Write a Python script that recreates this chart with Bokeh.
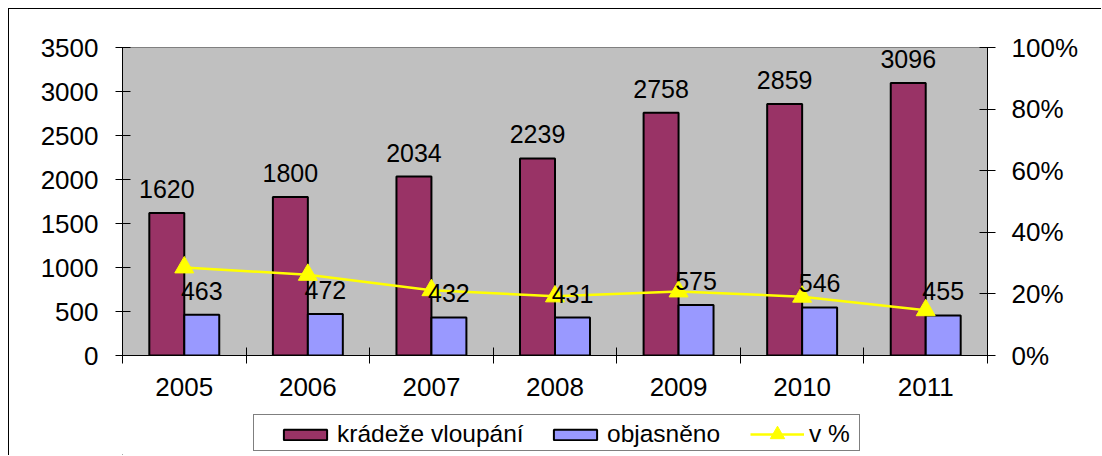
from bokeh.plotting import figure
from bokeh.layouts import column
from bokeh.models import (Range1d, LinearAxis, FixedTicker, NumeralTickFormatter,
                          Legend, LegendItem)
from bokeh.embed import file_html
from bokeh.resources import INLINE
from bokeh.core.properties import value

# ---- data ----
years = ["2005", "2006", "2007", "2008", "2009", "2010", "2011"]
kradeze = [1620, 1800, 2034, 2239, 2758, 2859, 3096]
objasneno = [463, 472, 432, 431, 575, 546, 455]
procenta = [0.286, 0.262, 0.212, 0.192, 0.208, 0.191, 0.147]
y_ticks = [0, 500, 1000, 1500, 2000, 2500, 3000, 3500]
pct_ticks = [0, 0.2, 0.4, 0.6, 0.8, 1.0]
legend_labels = ["krádeže vloupání", "objasněno", "v %"]

FONT = "Liberation Sans"
FS = "25px"
AFS = "26px"
LFS = "24.5px"
MAROON = "#993366"
BLUE = "#9999FF"
YELLOW = "#FFFF00"

pos = [i + 0.5 for i in range(len(years))]
bw = 0.283
x_k = [c - bw / 2 for c in pos]
x_o = [c + bw / 2 for c in pos]

p = figure(width=1093, height=401, output_backend="svg", toolbar_location=None,
           x_range=Range1d(0, len(years)), y_range=Range1d(0, 3500),
           min_border_left=113, min_border_right=115, min_border_top=38,
           min_border_bottom=55)
p.styles = {"margin-left": "8px", "margin-top": "8px",
            "border-left": "1px solid black", "border-top": "1px solid black"}
p.extra_y_ranges = {"pct": Range1d(0, 1)}
p.background_fill_color = "#C0C0C0"
p.border_fill_color = "white"
p.outline_line_color = "#808080"
p.xgrid.visible = False
p.ygrid.visible = False

# x axis
xa = p.xaxis[0]
xa.ticker = FixedTicker(ticks=pos, minor_ticks=list(range(len(years) + 1)))
xa.major_label_overrides = {c: y for c, y in zip(pos, years)}
xa.major_tick_in = 0
xa.major_tick_out = 0
xa.minor_tick_in = 8
xa.minor_tick_out = 8
xa.minor_tick_line_color = "black"
xa.axis_line_color = "black"
xa.major_label_standoff = 14
xa.major_label_text_font = FONT
xa.major_label_text_font_size = AFS
xa.major_label_text_color = "black"

# left axis
ya = p.yaxis[0]
ya.ticker = FixedTicker(ticks=y_ticks, minor_ticks=[])
ya.major_tick_in = 8
ya.major_tick_out = 7
ya.major_tick_line_color = "black"
ya.axis_line_color = "black"
ya.major_label_standoff = 17
ya.major_label_text_font = FONT
ya.major_label_text_font_size = AFS
ya.major_label_text_color = "black"

# right axis
ra = LinearAxis(y_range_name="pct", ticker=FixedTicker(ticks=pct_ticks, minor_ticks=[]),
                formatter=NumeralTickFormatter(format="0%"))
ra.major_tick_in = 8
ra.major_tick_out = 8
ra.major_tick_line_color = "black"
ra.axis_line_color = "black"
ra.major_label_standoff = 16
ra.major_label_text_font = FONT
ra.major_label_text_font_size = AFS
ra.major_label_text_color = "black"
p.add_layout(ra, "right")

# bars
p.vbar(x=x_k, top=kradeze, width=bw, fill_color=MAROON, line_color="black", line_width=2)
p.vbar(x=x_o, top=objasneno, width=bw, fill_color=BLUE, line_color="black", line_width=2)

# line
p.line(pos, procenta, y_range_name="pct", line_color=YELLOW, line_width=2.5)
p.scatter(pos, procenta, y_range_name="pct", marker="triangle", size=19,
          fill_color=YELLOW, line_color=YELLOW)

# data labels
p.text(x=x_k, y=kradeze, text=[str(v) for v in kradeze], text_align="center",
       text_baseline="alphabetic", y_offset=-24, text_font=value(FONT),
       text_font_size=value(FS), text_color="black")
p.text(x=x_o, y=objasneno, text=[str(v) for v in objasneno], text_align="center",
       text_baseline="alphabetic", y_offset=-24, text_font=value(FONT),
       text_font_size=value(FS), text_color="black")

# ---- legend strip (separate canvas so it is not clipped) ----
q = figure(width=1093, height=46, output_backend="svg", toolbar_location=None,
           x_range=Range1d(0, 1), y_range=Range1d(0, 1),
           min_border_left=0, min_border_right=0, min_border_top=0, min_border_bottom=0)
q.styles = {"margin-left": "8px", "border-left": "1px solid black"}
q.axis.visible = False
q.grid.visible = False
q.outline_line_color = None
q.background_fill_color = "white"
q.border_fill_color = "white"

# legend proxies, placed outside the strip's visible range
lk = q.vbar(x=[-5], top=[-5], bottom=[-6], width=0.1, fill_color=MAROON,
            line_color="black", line_width=2)
lo = q.vbar(x=[-5], top=[-5], bottom=[-6], width=0.1, fill_color=BLUE,
            line_color="black", line_width=2)
ll = q.line([-6, -5], [-5, -5], line_color=YELLOW, line_width=2.5)
ls = q.scatter([-5], [-5], marker="triangle", size=15, fill_color=YELLOW, line_color=YELLOW)
dummy = q.scatter([-5], [-5], size=1, fill_alpha=0, line_alpha=0)

box = Legend(items=[LegendItem(label=" ", renderers=[dummy])], location=(131, 4),
             padding=0, margin=0, spacing=0, glyph_width=1, glyph_height=1,
             label_standoff=0, label_width=604, label_height=35,
             label_text_font_size="1px", border_line_color="black", border_line_width=1,
             background_fill_color="white", background_fill_alpha=1)
q.add_layout(box)


def add_item(label, renderers, left, gh, bottom):
    lg = Legend(items=[LegendItem(label=label, renderers=renderers)],
                location=(left - 122, bottom), padding=0, margin=0, spacing=0,
                glyph_width=54, glyph_height=gh, label_standoff=5, label_height=30,
                label_text_font=FONT, label_text_font_size=LFS, label_text_color="black",
                border_line_alpha=0, background_fill_alpha=0)
    q.add_layout(lg)


add_item(legend_labels[0], [lk], 278, 13, 6)
add_item(legend_labels[1], [lo], 548, 13, 6)
add_item(legend_labels[2], [ll, ls], 750, 36, 3)

open("out.html", "w").write(file_html(column(p, q, spacing=0), INLINE))
